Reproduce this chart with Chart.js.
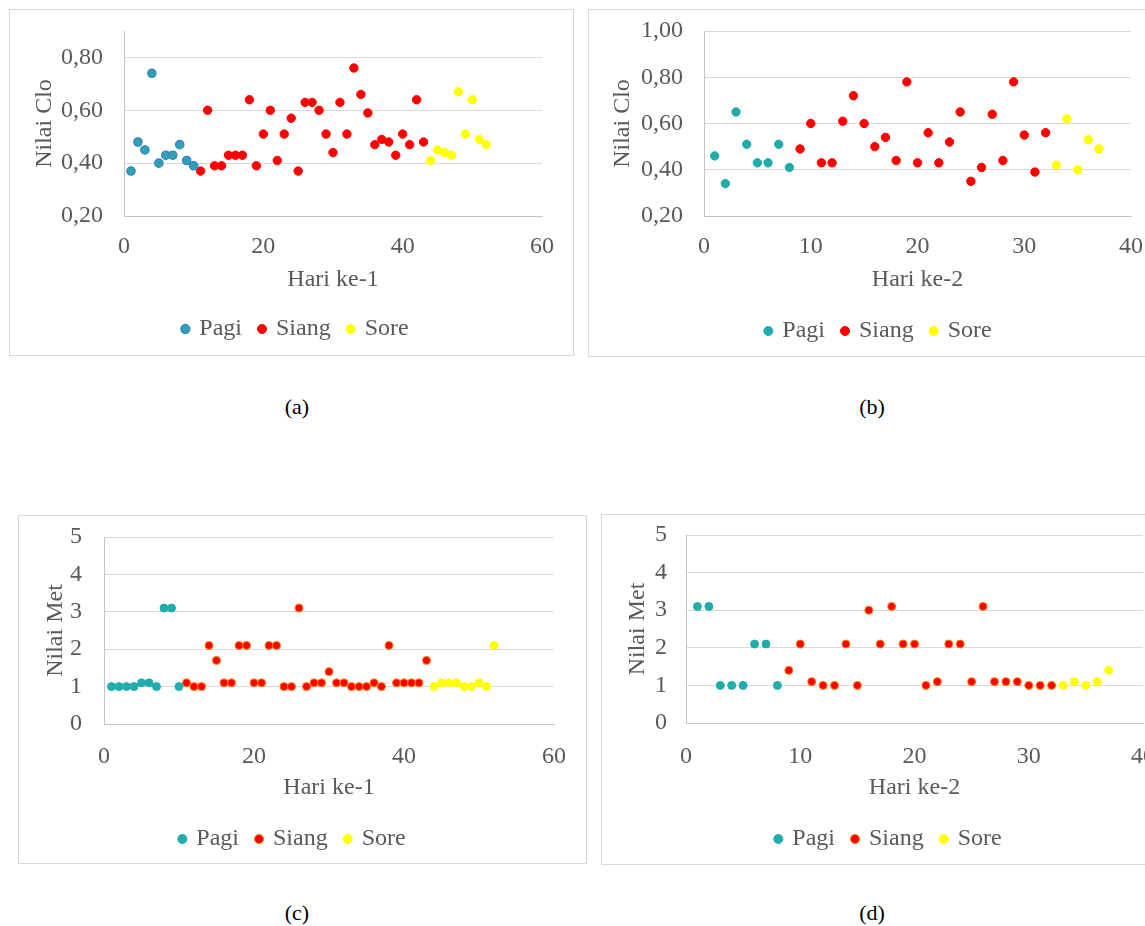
<!DOCTYPE html>
<html>
<head>
<meta charset="utf-8">
<script src="https://cdn.jsdelivr.net/npm/chart.js@4.4.1/dist/chart.umd.min.js"></script>
<style>
html, body { margin: 0; padding: 0; background: #fff; width: 1145px; height: 926px; overflow: hidden; }
.box { position: absolute; border: 1px solid #d9d9d9; box-sizing: border-box; }
canvas { position: absolute; }
.cap { position: absolute; width: 60px; margin-left: -30px; text-align: center; font: 22px "Liberation Serif", serif; line-height: 22px; color: #000; }
</style>
</head>
<body>
<div class="box" style="left:9px;top:9px;width:565px;height:347px"></div>
<div class="box" style="left:588px;top:9px;width:600px;height:348px"></div>
<div class="box" style="left:18px;top:515px;width:569px;height:349px"></div>
<div class="box" style="left:601px;top:514px;width:600px;height:351px"></div>
<div class="cap" style="left:297px;top:396px">(a)</div>
<div class="cap" style="left:872px;top:396px">(b)</div>
<div class="cap" style="left:297px;top:902px">(c)</div>
<div class="cap" style="left:872px;top:902px">(d)</div>
<script>
// hari ke-1
const pagiHari1 = [1, 2, 3, 4, 5, 6, 7, 8, 9, 10];
const siangHari1 = [11, 12, 13, 14, 15, 16, 17, 18, 19, 20, 21, 22, 23, 24, 25, 26, 27, 28, 29, 30, 31, 32, 33, 34, 35, 36, 37, 38, 39, 40, 41, 42, 43];
const soreHari1 = [44, 45, 46, 47, 48, 49, 50, 51, 52];
// hari ke-2
const pagiHari2 = [1, 2, 3, 4, 5, 6, 7, 8];
const siangHari2 = [9, 10, 11, 12, 13, 14, 15, 16, 17, 18, 19, 20, 21, 22, 23, 24, 25, 26, 27, 28, 29, 30, 31, 32];
const soreHari2 = [33, 34, 35, 36, 37];

// nilai clo
const pagiClo1 = [0.37, 0.48, 0.45, 0.74, 0.40, 0.43, 0.43, 0.47, 0.41, 0.39];
const siangClo1 = [0.37, 0.60, 0.39, 0.39, 0.43, 0.43, 0.43, 0.64, 0.39, 0.51, 0.60, 0.41, 0.51, 0.57, 0.37, 0.63, 0.63, 0.60, 0.51, 0.44, 0.63, 0.51, 0.76, 0.66, 0.59, 0.47, 0.49, 0.48, 0.43, 0.51, 0.47, 0.64, 0.48];
const soreClo1 = [0.41, 0.45, 0.44, 0.43, 0.67, 0.51, 0.64, 0.49, 0.47];
const pagiClo2 = [0.46, 0.34, 0.65, 0.51, 0.43, 0.43, 0.51, 0.41];
const siangClo2 = [0.49, 0.60, 0.43, 0.43, 0.61, 0.72, 0.60, 0.50, 0.54, 0.44, 0.78, 0.43, 0.56, 0.43, 0.52, 0.65, 0.35, 0.41, 0.64, 0.44, 0.78, 0.55, 0.39, 0.56];
const soreClo2 = [0.42, 0.62, 0.40, 0.53, 0.49];

// nilai met
const pagiMet1 = [1.0, 1.0, 1.0, 1.0, 1.1, 1.1, 1.0, 3.1, 3.1, 1.0];
const siangMet1 = [1.1, 1.0, 1.0, 2.1, 1.7, 1.1, 1.1, 2.1, 2.1, 1.1, 1.1, 2.1, 2.1, 1.0, 1.0, 3.1, 1.0, 1.1, 1.1, 1.4, 1.1, 1.1, 1.0, 1.0, 1.0, 1.1, 1.0, 2.1, 1.1, 1.1, 1.1, 1.1, 1.7];
const soreMet1 = [1.0, 1.1, 1.1, 1.1, 1.0, 1.0, 1.1, 1.0, 2.1];
const pagiMet2 = [3.1, 3.1, 1.0, 1.0, 1.0, 2.1, 2.1, 1.0];
const siangMet2 = [1.4, 2.1, 1.1, 1.0, 1.0, 2.1, 1.0, 3.0, 2.1, 3.1, 2.1, 2.1, 1.0, 1.1, 2.1, 2.1, 1.1, 3.1, 1.1, 1.1, 1.1, 1.0, 1.0, 1.0];
const soreMet2 = [1.0, 1.1, 1.0, 1.1, 1.4];

const namaSeri = ['Pagi', 'Siang', 'Sore'];
const xTicksHari1 = [0, 20, 40, 60];
const xTicksHari2 = [0, 10, 20, 30, 40];
const yTicksClo1 = [0.2, 0.4, 0.6, 0.8];
const yTicksClo2 = [0.2, 0.4, 0.6, 0.8, 1.0];
const yTicksMet = [0, 1, 2, 3, 4, 5];

const fontFam = '"Liberation Serif", "Times New Roman", serif';
const fs = 24;
const lh = fs * 1.2;
const legendPad = 18;
const legendH = fs + legendPad + 10;
const tickPad = 2;
const textColor = '#595959';
const gridColor = '#d9d9d9';
const axisColor = '#c4c4c4';

function toPoints(xs, ys) {
  return xs.map((x, i) => ({ x: x, y: ys[i] }));
}

function fmtClo(v) {
  return Number(v).toFixed(2).replace('.', ',');
}

function makeSets(xs, ys, styles) {
  return namaSeri.map((nama, i) => ({
    label: nama,
    data: toPoints(xs[i], ys[i]),
    backgroundColor: styles[i].bg,
    borderColor: styles[i].border,
    borderWidth: styles[i].bw,
    pointRadius: styles[i].r,
    pointHoverRadius: styles[i].r
  }));
}

function makeChart(g) {
  const cv = document.createElement('canvas');
  cv.width = g.w;
  cv.height = g.h;
  cv.style.left = g.x + 'px';
  cv.style.top = g.y + 'px';
  document.body.appendChild(cv);

  const plotL = g.plotL - g.x;
  const plotT = g.plotT - g.y;
  const plotR = g.plotR - g.x;
  const plotB = g.plotB - g.y;
  const xAxisBottom = g.h - legendH;
  const tickFont = { family: fontFam, size: fs };

  // jarak label dibuat lewat tickLength (tak terlihat) supaya padding atas tidak membengkak
  return new Chart(cv, {
    type: 'scatter',
    data: { datasets: g.datasets },
    options: {
      responsive: false,
      animation: false,
      events: [],
      layout: { padding: { left: 0, top: plotT, right: g.w - plotR, bottom: 0 } },
      scales: {
        x: {
          type: 'linear',
          min: g.xTicks[0],
          max: g.xTicks[g.xTicks.length - 1],
          afterBuildTicks: s => { s.ticks = g.xTicks.map(v => ({ value: v })); },
          afterFit: s => { s.height = xAxisBottom - plotB; },
          grid: {
            color: 'transparent', drawTicks: true, tickColor: 'transparent',
            tickLength: g.xTickY - g.plotB - lh / 2 - tickPad
          },
          border: { display: true, color: axisColor, width: 1 },
          ticks: { padding: tickPad, color: textColor, font: tickFont },
          title: {
            display: true, text: g.xTitle, color: textColor, font: tickFont,
            padding: { top: 0, bottom: xAxisBottom - lh / 2 - (g.xTitleY - g.y) }
          }
        },
        y: {
          type: 'linear',
          min: g.yMin,
          max: g.yMax,
          afterBuildTicks: s => { s.ticks = g.yTicks.map(v => ({ value: v })); },
          afterFit: s => { s.width = plotL; },
          grid: {
            color: gridColor, drawTicks: true, tickColor: 'transparent',
            tickLength: g.plotL - g.yTickR - tickPad
          },
          border: { display: true, color: axisColor, width: 1 },
          ticks: { padding: tickPad, color: textColor, font: tickFont, callback: g.yFmt },
          title: {
            display: true, text: g.yTitle, color: textColor, font: tickFont,
            padding: { top: (g.yTitleX - g.x) - lh / 2, bottom: 0 }
          }
        }
      },
      plugins: {
        legend: {
          position: 'bottom',
          maxHeight: legendH,
          labels: {
            usePointStyle: true,
            pointStyle: 'circle',
            boxWidth: 4,
            boxHeight: 6.4,
            padding: legendPad,
            color: textColor,
            font: tickFont
          }
        },
        tooltip: { enabled: false }
      }
    },
    plugins: [{
      id: 'letakLegenda',
      beforeDraw(chart) {
        const lg = chart.legend;
        const w = lg.right - lg.left;
        lg.left = (g.legendX - g.x) - w / 2;
        lg.right = lg.left + w;
        lg.top = (g.legendY - g.y) - legendPad - fs / 2;
        lg.bottom = lg.top + lg.height;
      }
    }]
  });
}

const gayaA = [
  { bg: '#2BA3B2', border: '#3D7CC9', bw: 1.2, r: 4.2 },
  { bg: '#FF0000', border: '#FF0000', bw: 1, r: 4.2 },
  { bg: '#FFFF00', border: '#FFFF00', bw: 1, r: 4.2 }
];
const gayaB = [
  { bg: '#21ACAC', border: '#21ACAC', bw: 1, r: 4.2 },
  { bg: '#FF0000', border: '#FF0000', bw: 1, r: 4.2 },
  { bg: '#FFFF00', border: '#FFFF00', bw: 1, r: 4.2 }
];
const gayaMet = [
  { bg: '#21ACAC', border: '#21ACAC', bw: 1, r: 4 },
  { bg: '#FF0000', border: '#FF8000', bw: 1, r: 4 },
  { bg: '#FFFF00', border: '#FFFF00', bw: 1, r: 4 }
];

// (a)
makeChart({
  x: 9, y: 9, w: 564, h: 346,
  plotL: 124, plotT: 31, plotR: 542, plotB: 216,
  yTickR: 103, yTitleX: 45, xTickY: 247, xTitleY: 280,
  legendX: 296, legendY: 329,
  xTicks: xTicksHari1, yTicks: yTicksClo1, yMin: 0.2, yMax: 0.9, yFmt: fmtClo,
  xTitle: 'Hari ke-1', yTitle: 'Nilai Clo',
  datasets: makeSets([pagiHari1, siangHari1, soreHari1], [pagiClo1, siangClo1, soreClo1], gayaA)
});

// (b)
makeChart({
  x: 588, y: 9, w: 580, h: 347,
  plotL: 704, plotT: 31, plotR: 1131, plotB: 216,
  yTickR: 683, yTitleX: 623, xTickY: 247, xTitleY: 280,
  legendX: 879, legendY: 331,
  xTicks: xTicksHari2, yTicks: yTicksClo2, yMin: 0.2, yMax: 1.0, yFmt: fmtClo,
  xTitle: 'Hari ke-2', yTitle: 'Nilai Clo',
  datasets: makeSets([pagiHari2, siangHari2, soreHari2], [pagiClo2, siangClo2, soreClo2], gayaB)
});

// (c)
makeChart({
  x: 18, y: 515, w: 568, h: 348,
  plotL: 104, plotT: 537, plotR: 554, plotB: 724,
  yTickR: 82, yTitleX: 56, xTickY: 757, xTitleY: 788,
  legendX: 293, legendY: 839,
  xTicks: xTicksHari1, yTicks: yTicksMet, yMin: 0, yMax: 5, yFmt: v => String(v),
  xTitle: 'Hari ke-1', yTitle: 'Nilai Met',
  datasets: makeSets([pagiHari1, siangHari1, soreHari1], [pagiMet1, siangMet1, soreMet1], gayaMet)
});

// (d)
makeChart({
  x: 601, y: 514, w: 570, h: 350,
  plotL: 686, plotT: 535, plotR: 1143, plotB: 723,
  yTickR: 667, yTitleX: 638, xTickY: 757, xTitleY: 788,
  legendX: 889, legendY: 839,
  xTicks: xTicksHari2, yTicks: yTicksMet, yMin: 0, yMax: 5, yFmt: v => String(v),
  xTitle: 'Hari ke-2', yTitle: 'Nilai Met',
  datasets: makeSets([pagiHari2, siangHari2, soreHari2], [pagiMet2, siangMet2, soreMet2], gayaMet)
});
</script>
</body>
</html>
